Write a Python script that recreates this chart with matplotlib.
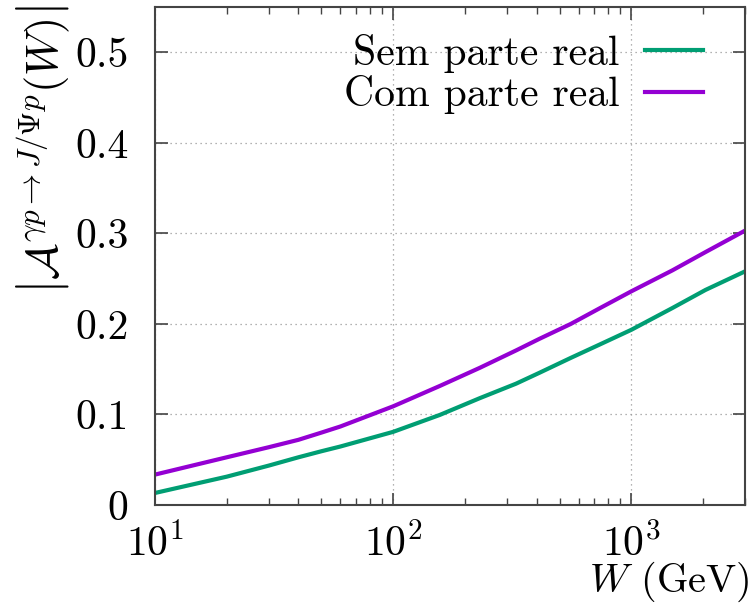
import numpy as np
import matplotlib
matplotlib.use('Agg')
import matplotlib.pyplot as plt
from matplotlib.ticker import LogLocator, FixedLocator, FixedFormatter

plt.rcParams['font.family'] = 'serif'
plt.rcParams['font.serif'] = ['cmr10']
plt.rcParams['mathtext.fontset'] = 'cm'
plt.rcParams['axes.formatter.use_mathtext'] = True

# |A(W)| para as duas hipoteses
W_sem = [10, 20, 30, 40, 50, 60, 100, 157, 231, 328, 411, 557, 733, 1000, 1486, 2047, 3000]
sem_real = [0.0133, 0.0313, 0.0435, 0.0527, 0.0594, 0.0646, 0.0808, 0.0995, 0.118, 0.134,
            0.146, 0.1625, 0.177, 0.1935, 0.2175, 0.2375, 0.258]
W_com = [10, 20, 30, 40, 50, 60, 100, 157, 231, 328, 411, 557, 733, 1000, 1486, 2047, 3000]
com_real = [0.0336, 0.0527, 0.0638, 0.072, 0.080, 0.0867, 0.109, 0.1315, 0.1515, 0.1707,
            0.1835, 0.200, 0.217, 0.236, 0.2591, 0.2793, 0.303]

yticks = [0, 0.1, 0.2, 0.3, 0.4, 0.5]
ylabels = ['0', '0.1', '0.2', '0.3', '0.4', '0.5']

fig = plt.figure(figsize=(7.5, 6.03), dpi=100)
ax = fig.add_axes([0.2067, 0.1625, 0.7866, 0.8259])

ax.plot(W_sem, sem_real, color='#009e73', lw=3, label='Sem parte real')
ax.plot(W_com, com_real, color='#9400d3', lw=3, label='Com parte real')

ax.set_xscale('log')
ax.set_xlim(10, 3000)
ax.set_ylim(0, 0.55)
ax.yaxis.set_major_locator(FixedLocator(yticks))
ax.yaxis.set_major_formatter(FixedFormatter(ylabels))
ax.xaxis.set_major_locator(LogLocator(base=10))
ax.xaxis.set_minor_locator(LogLocator(base=10, subs=np.arange(2, 10)))

ax.tick_params(which='both', direction='in', top=True, right=True, labelsize=30)
ax.tick_params(which='major', length=9, width=1.2, color='#444444')
ax.tick_params(which='minor', length=5, width=1.0, color='#444444')
ax.tick_params(axis='y', pad=19)
ax.tick_params(axis='x', pad=13)

for s in ax.spines.values():
    s.set_linewidth(1.5)
    s.set_color('#444444')

ax.grid(True, which='major', linestyle=(0, (1, 3)), color='#999999', lw=0.9)

ax.set_ylabel(r'$\left|\mathcal{A}^{\gamma p\to J/\Psi p}(W)\right|$', fontsize=32)
ax.yaxis.set_label_coords(-0.141, 0.713)
ax.text(1.008, -0.155, r'$W$ (GeV)', transform=ax.transAxes, ha='right', va='center', fontsize=29)

ax.legend(loc='upper right', frameon=False, markerfirst=False, fontsize=30,
          handlelength=1.4, handletextpad=0.6, borderaxespad=0.25, labelspacing=0.05,
          bbox_to_anchor=(0.975, 1.0))

fig.savefig('out.png', dpi=100)
